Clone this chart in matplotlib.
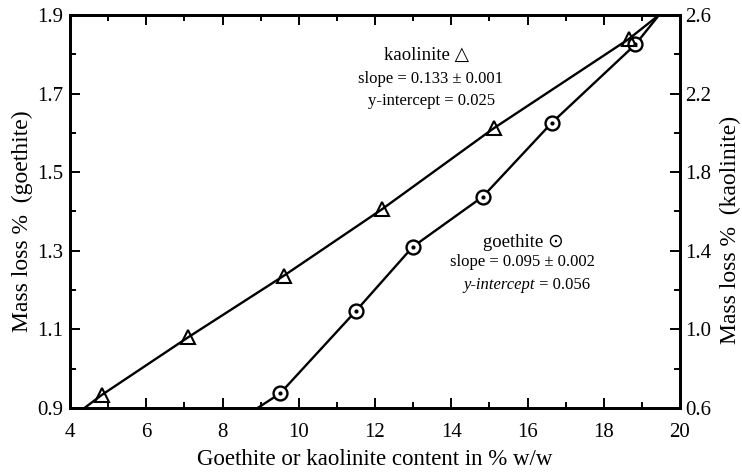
import matplotlib
matplotlib.use("Agg")
import matplotlib.pyplot as plt
from matplotlib.ticker import MultipleLocator, FixedLocator, FormatStrFormatter

plt.rcParams['font.family'] = ['Liberation Serif', 'DejaVu Sans']

# Data
kaolinite_x = [4.83, 7.1, 9.6, 12.18, 15.11, 18.65]
kaolinite_y = [0.666, 0.96, 1.272, 1.611, 2.023, 2.477]   # right axis
goethite_x = [9.51, 11.5, 12.99, 14.83, 16.64, 18.83]
goethite_y = [0.937, 1.147, 1.31, 1.438, 1.626, 1.825]    # left axis

kaolinite_curve_x = [4.38, 4.83, 7.1, 9.6, 12.18, 15.11, 18.65, 19.45]
kaolinite_curve_y = [0.6, 0.666, 0.96, 1.272, 1.611, 2.023, 2.477, 2.6]
goethite_curve_x = [8.92, 9.51, 11.5, 12.99, 14.83, 16.64, 18.83, 19.45]
goethite_curve_y = [0.9, 0.937, 1.147, 1.31, 1.438, 1.626, 1.825, 1.9]

x_ticks = [4, 6, 8, 10, 12, 14, 16, 18, 20]
left_ticks = [0.9, 1.1, 1.3, 1.5, 1.7, 1.9]
right_ticks = [0.6, 1.0, 1.4, 1.8, 2.2, 2.6]

fig = plt.figure(figsize=(7.42, 4.75), dpi=100)
ax = fig.add_axes([70/742, 67/475, 610/742, 393/475])
ax2 = ax.twinx()

lw = 1.7
ax.plot(goethite_curve_x, goethite_curve_y, color='black', lw=lw, zorder=2)
ax.plot(goethite_x, goethite_y, linestyle='none', marker='o', ms=10, mfc='white',
        mec='black', mew=1.7, zorder=3)
ax.plot(goethite_x, goethite_y, linestyle='none', marker='o', ms=2, mfc='black',
        mec='black', zorder=4)

ax2.plot(kaolinite_curve_x, kaolinite_curve_y, color='black', lw=lw, zorder=2)
ax2.plot(kaolinite_x, kaolinite_y, linestyle='none', marker='^', ms=10.5, mfc='none',
         mec='black', mew=1.5, zorder=3)

ax.set_xlim(4, 20)
ax.set_ylim(0.9, 1.9)
ax2.set_ylim(0.6, 2.6)

ax.xaxis.set_major_locator(FixedLocator(x_ticks))
ax.xaxis.set_minor_locator(MultipleLocator(1))
ax.yaxis.set_major_locator(FixedLocator(left_ticks))
ax.yaxis.set_minor_locator(MultipleLocator(0.1))
ax.yaxis.set_major_formatter(FormatStrFormatter('%.1f'))
ax2.yaxis.set_major_locator(FixedLocator(right_ticks))
ax2.yaxis.set_minor_locator(MultipleLocator(0.2))
ax2.yaxis.set_major_formatter(FormatStrFormatter('%.1f'))

ax.tick_params(axis='both', which='major', direction='in', length=7, width=1.4,
               labelsize=15, top=True, right=False)
ax.tick_params(axis='both', which='minor', direction='in', length=4, width=1.4,
               top=True, right=False)
ax.tick_params(axis='x', pad=11)
ax.tick_params(axis='y', pad=5)
ax2.tick_params(axis='y', which='major', direction='in', length=7, width=1.4,
                labelsize=15, pad=4)
ax2.tick_params(axis='y', which='minor', direction='in', length=4, width=1.4)

for a in (ax, ax2):
    for s in a.spines.values():
        s.set_linewidth(2)

ax.set_xlabel('Goethite or kaolinite content in % w/w', fontsize=16.5, labelpad=5)
ax.set_ylabel('Mass loss %  (goethite)', fontsize=17)
ax2.set_ylabel('Mass loss %  (kaolinite)', fontsize=17)
ax.yaxis.set_label_coords(-0.060, 0.475)
ax2.yaxis.set_label_coords(1.0656, 0.453)

fx = lambda px: (px - 70) / 610
fy = lambda py: (408 - py) / 393

ax.text(fx(426), fy(55), 'kaolinite \u25b3', transform=ax.transAxes, ha='center',
        va='center', fontsize=13.5)
ax.text(fx(431), fy(79), 'slope = 0.133 \u00b1 0.001', transform=ax.transAxes,
        ha='center', va='center', fontsize=12)
ax.text(fx(432), fy(101), 'y-intercept = 0.025', transform=ax.transAxes,
        ha='center', va='center', fontsize=12)

ax.text(fx(523), fy(242), 'goethite \u2299', transform=ax.transAxes, ha='center',
        va='center', fontsize=13.5)
ax.text(fx(522), fy(262), 'slope = 0.095 \u00b1 0.002', transform=ax.transAxes,
        ha='center', va='center', fontsize=12)
ax.text(fx(535), fy(285), 'y-intercept', transform=ax.transAxes, ha='right',
        va='center', fontsize=12, style='italic')
ax.text(fx(535), fy(285), ' = 0.056', transform=ax.transAxes, ha='left',
        va='center', fontsize=12)

fig.savefig('out.png', dpi=100)
